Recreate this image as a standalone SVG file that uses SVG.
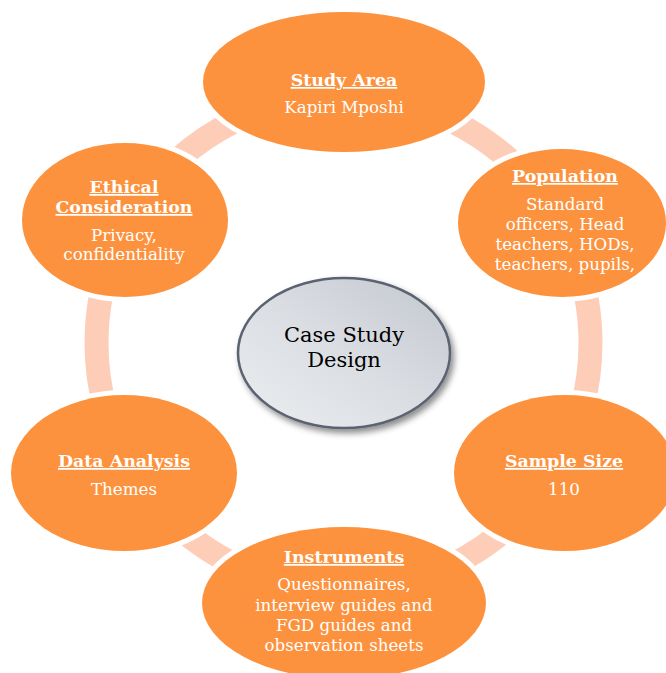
<svg xmlns="http://www.w3.org/2000/svg" width="666" height="673" viewBox="0 0 666 673">
<defs>
<linearGradient id="cg" x1="0" y1="1" x2="1" y2="0">
<stop offset="0" stop-color="#eceef1"/>
<stop offset="0.5" stop-color="#dadde2"/>
<stop offset="1" stop-color="#c3c7cf"/>
</linearGradient>
<filter id="sh" x="-20%" y="-20%" width="150%" height="150%">
<feDropShadow dx="3" dy="4" stdDeviation="3" flood-color="#000" flood-opacity="0.45"/>
</filter>
</defs>
<style>
.arc{fill:none;stroke:#fecdb7;stroke-width:24}
.node{fill:#fd923e;stroke:#ffffff;stroke-width:10;paint-order:stroke}
.t{font-family:"DejaVu Serif","Liberation Serif",serif;font-size:16.7px;fill:#ffffff;text-anchor:middle}
.h{font-weight:bold;text-decoration:underline;font-size:17.4px}
.c{font-family:"DejaVu Serif","Liberation Serif",serif;font-size:21px;fill:#000000;text-anchor:middle}
</style>
<rect width="666" height="673" fill="#ffffff"/>
<g id="connectors">
<path class="arc" d="M343.5 96 A247 247 0 0 1 557.4 219.5"/>
<path class="arc" d="M557.4 219.5 A247 247 0 0 1 557.4 466.5"/>
<path class="arc" d="M557.4 466.5 A247 247 0 0 1 343.5 590"/>
<path class="arc" d="M343.5 590 A247 247 0 0 1 129.6 466.5"/>
<path class="arc" d="M129.6 466.5 A247 247 0 0 1 129.6 219.5"/>
<path class="arc" d="M129.6 219.5 A247 247 0 0 1 343.5 96"/>
</g>
<g id="center">
<ellipse cx="344" cy="353" rx="106" ry="75" fill="url(#cg)" stroke="#5b6271" stroke-width="2.5" filter="url(#sh)"/>
<text class="c" x="344" y="342">Case Study</text>
<text class="c" x="344" y="367">Design</text>
</g>
<g id="study-area">
<ellipse class="node" cx="344" cy="82" rx="141" ry="70"/>
<text class="t h" x="344" y="86">Study Area</text>
<text class="t" x="344" y="113">Kapiri Mposhi</text>
</g>
<g id="population">
<ellipse class="node" cx="562" cy="223" rx="104" ry="74"/>
<text class="t h" x="565" y="182">Population</text>
<text class="t" x="565" y="210">Standard</text>
<text class="t" x="565" y="230">officers, Head</text>
<text class="t" x="565" y="250">teachers, HODs,</text>
<text class="t" x="565" y="270">teachers, pupils,</text>
</g>
<g id="sample-size">
<ellipse class="node" cx="565" cy="473" rx="111" ry="78"/>
<text class="t h" x="564" y="467">Sample Size</text>
<text class="t" x="564" y="495">110</text>
</g>
<g id="instruments">
<ellipse class="node" cx="344" cy="603" rx="142" ry="76"/>
<text class="t h" x="344" y="563">Instruments</text>
<text class="t" x="344" y="590">Questionnaires,</text>
<text class="t" x="344" y="610.5">interview guides and</text>
<text class="t" x="344" y="631">FGD guides and</text>
<text class="t" x="344" y="651">observation sheets</text>
</g>
<g id="data-analysis">
<ellipse class="node" cx="124" cy="473" rx="113" ry="78"/>
<text class="t h" x="124" y="467">Data Analysis</text>
<text class="t" x="124" y="495">Themes</text>
</g>
<g id="ethical-consideration">
<ellipse class="node" cx="125" cy="220" rx="103" ry="77"/>
<text class="t h" x="124" y="193">Ethical</text>
<text class="t h" x="124" y="213">Consideration</text>
<text class="t" x="124" y="241">Privacy,</text>
<text class="t" x="124" y="260">confidentiality</text>
</g>
</svg>
